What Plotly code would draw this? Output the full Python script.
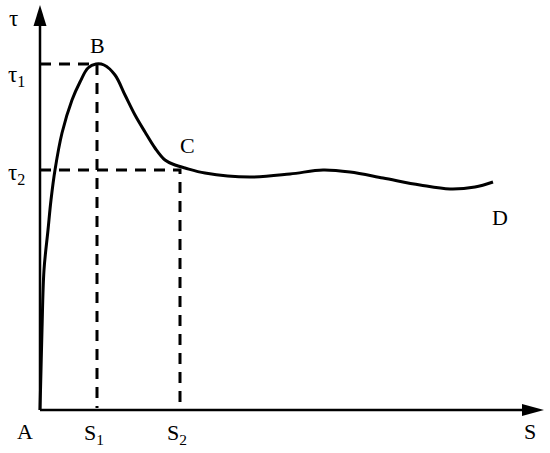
import plotly.graph_objects as go

# Curve A-B-C-D (S offset from origin A, tau above axis)
s_vals = [0, 1, 2, 4, 8, 11, 15, 22, 32, 40, 48, 56, 64, 75, 85, 95, 105, 115, 125, 135, 145, 165, 210, 250, 283, 310, 343, 380, 410, 435, 453]
tau_vals = [0, 40, 80, 140, 180, 210, 240, 277, 310, 328, 342, 346, 345, 335, 315, 295, 278, 262, 250, 245, 242, 237, 233, 236, 240, 238, 232, 225, 221, 223, 228]

s1, tau1 = 57, 346
s2, tau2 = 140, 240
s_max, tau_max = 504, 405

point_labels = ["A", "B", "C", "D"]
point_pos = [(-15, -21), (57, 365), (147, 265), (460, 193)]

FONT = "Liberation Serif"

fig = go.Figure()
fig.add_trace(go.Scatter(x=s_vals, y=tau_vals, mode="lines",
                         line=dict(color="black", width=3, shape="spline", smoothing=1.0),
                         hoverinfo="skip"))

dash = "11px,8px"
# dashed guide lines
fig.add_trace(go.Scatter(x=[0, s1, s1], y=[tau1, tau1, 2], mode="lines",
                         line=dict(color="black", width=3, dash=dash), hoverinfo="skip"))
fig.add_trace(go.Scatter(x=[0, s2, s2], y=[tau2, tau2, 5], mode="lines",
                         line=dict(color="black", width=3, dash=dash), hoverinfo="skip"))

shapes = [
    dict(type="line", x0=0, y0=0, x1=s_max - 20, y1=0, line=dict(color="black", width=2.5)),
    dict(type="line", x0=0, y0=0, x1=0, y1=tau_max - 20, line=dict(color="black", width=2.5)),
    dict(type="path", path=f"M {s_max-22},6 L {s_max},0 L {s_max-22},-6 Z",
         fillcolor="black", line=dict(color="black", width=0)),
    dict(type="path", path=f"M -6.5,{tau_max-21} L 0,{tau_max} L 6.5,{tau_max-21} Z",
         fillcolor="black", line=dict(color="black", width=0)),
]

annotations = []
for lab, (x, y) in zip(point_labels, point_pos):
    annotations.append(dict(x=x, y=y, text=lab, showarrow=False,
                            font=dict(family=FONT, size=22, color="black")))
annotations += [
    dict(x=-27, y=392, text="τ", showarrow=False, font=dict(family=FONT, size=23, color="black")),
    dict(x=-24, y=tau1 - 12, text="τ<sub>1</sub>", showarrow=False, font=dict(family=FONT, size=23, color="black")),
    dict(x=-24, y=tau2 - 4, text="τ<sub>2</sub>", showarrow=False, font=dict(family=FONT, size=23, color="black")),
    dict(x=s1 - 3, y=-24, text="S<sub>1</sub>", showarrow=False, font=dict(family=FONT, size=22, color="black")),
    dict(x=s2 - 3, y=-24, text="S<sub>2</sub>", showarrow=False, font=dict(family=FONT, size=22, color="black")),
    dict(x=490, y=-21, text="S", showarrow=False, font=dict(family=FONT, size=22, color="black")),
]

fig.update_layout(
    width=550, height=453,
    margin=dict(l=0, r=0, t=0, b=0),
    paper_bgcolor="white", plot_bgcolor="white",
    showlegend=False,
    xaxis=dict(range=[-40, 510], visible=False, fixedrange=True),
    yaxis=dict(range=[-43, 410], visible=False, fixedrange=True),
    shapes=shapes,
    annotations=annotations,
)

fig.write_html("out.html", config={"displayModeBar": False},
               post_script="document.body.style.margin='0';document.body.style.overflow='hidden';")
